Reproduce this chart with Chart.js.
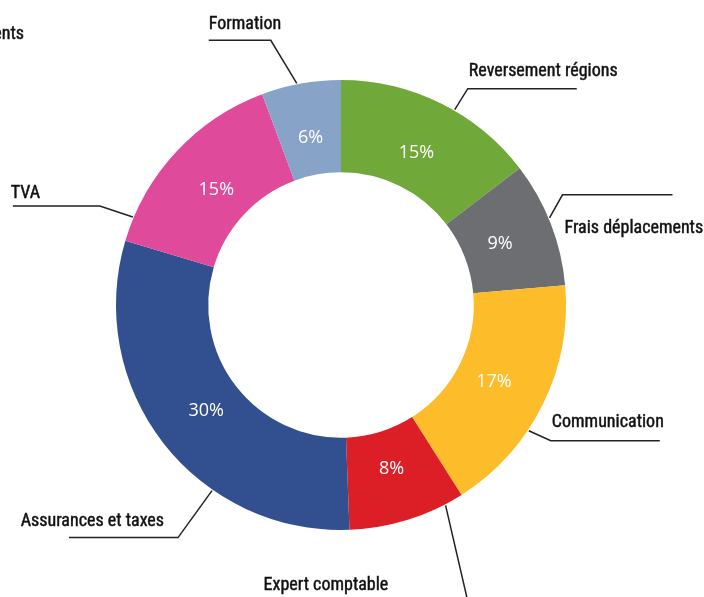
<!DOCTYPE html>
<html>
<head>
<meta charset="utf-8">
<script src="https://cdn.jsdelivr.net/npm/chart.js@4.4.0/dist/chart.umd.min.js"></script>
<style>
  html, body { margin: 0; padding: 0; background: #fff; }
  #wrap { width: 704px; height: 597px; position: relative; }
</style>
</head>
<body>
<div id="wrap"><canvas id="depenses"></canvas></div>
<script>
// data
const categories = ['Reversement régions', 'Frais déplacements', 'Communication', 'Expert comptable', 'Assurances et taxes', 'TVA', 'Formation'];
const shares = [14.6, 9.0, 17.4, 8.4, 30.2, 14.7, 5.7];
const sliceColors = ['#70a83a', '#6d6e72', '#fdbd2b', '#dc1f27', '#324f8f', '#df4a9b', '#87a3c8'];

// leader lines: t = where on the slice the line starts, elbow offset, horizontal run, text offset from elbow
const callouts = [
  { t: 0.575, ex: 13, ey: -21, hx: 109, tx: 1, ty: -17, align: 'left' },
  { t: 0.455, ex: 13, ey: -23, hx: 110, tx: 2, ty: 34, align: 'left' },
  { t: 0.62, ex: 22, ey: 10, hx: 109, tx: 1, ty: -18, align: 'left' },
  { t: 0.16, ex: 22, ey: 95, hx: 0, tx: -204, ty: -15, align: 'left' },
  { t: 0.34, ex: -34, ey: 47, hx: -109, tx: -14, ty: -16, align: 'right' },
  { t: 0.12, ex: -33, ey: -11, hx: -87, tx: -89, ty: -13, align: 'left' },
  { t: 0.45, ex: -26, ey: -43, hx: -62, tx: -62, ty: -16, align: 'left' }
];

const labelFont = '18px "Roboto Condensed", "Liberation Sans Narrow", "DejaVu Sans Condensed", Roboto, sans-serif';

function drawName(ctx, text, x, y) {
  // a hairline stroke gives the medium weight of the original labels
  ctx.fillText(text, x, y);
  ctx.lineWidth = 0.45;
  ctx.strokeStyle = '#111111';
  ctx.strokeText(text, x, y);
}

const calloutPlugin = {
  id: 'callouts',
  afterDatasetsDraw(chart) {
    const ctx = chart.ctx;
    const arcs = chart.getDatasetMeta(0).data;
    const total = shares.reduce((a, b) => a + b, 0);
    ctx.save();
    arcs.forEach((arc, i) => {
      const p = arc.getProps(['x', 'y', 'startAngle', 'endAngle', 'innerRadius', 'outerRadius'], true);
      // percentage inside the ring
      const mid = (p.startAngle + p.endAngle) / 2;
      const r = p.innerRadius + (p.outerRadius - p.innerRadius) * 0.41;
      ctx.fillStyle = '#ffffff';
      ctx.font = '18px "Open Sans", sans-serif';
      ctx.textAlign = 'center';
      ctx.textBaseline = 'middle';
      ctx.fillText(Math.round(shares[i] / total * 100) + '%', p.x + Math.cos(mid) * r, p.y + Math.sin(mid) * r + 1);

      // leader line and category name
      const c = callouts[i];
      const a = p.startAngle + (p.endAngle - p.startAngle) * c.t;
      const ax = p.x + Math.cos(a) * (p.outerRadius + 1);
      const ay = p.y + Math.sin(a) * (p.outerRadius + 1);
      const bx = ax + c.ex, by = ay + c.ey;
      ctx.strokeStyle = '#222222';
      ctx.lineWidth = 1.5;
      ctx.beginPath();
      ctx.moveTo(ax, ay);
      ctx.lineTo(bx, by);
      ctx.lineTo(bx + c.hx, by);
      ctx.stroke();
      ctx.fillStyle = '#111111';
      ctx.font = labelFont;
      ctx.textAlign = c.align;
      drawName(ctx, categories[i], bx + c.tx, by + c.ty);
    });
    // stray label cut by the left border
    ctx.textAlign = 'right';
    drawName(ctx, 'Remboursements', 24, 34);
    ctx.restore();
  }
};

new Chart(document.getElementById('depenses'), {
  type: 'doughnut',
  data: {
    labels: categories,
    datasets: [{
      data: shares,
      backgroundColor: sliceColors,
      borderWidth: 0,
      hoverOffset: 0
    }]
  },
  options: {
    responsive: true,
    maintainAspectRatio: false,
    animation: false,
    cutout: '59%',
    layout: { padding: { left: 116, right: 138, top: 80, bottom: 67 } },
    plugins: {
      legend: { display: false },
      tooltip: { enabled: false }
    }
  },
  plugins: [calloutPlugin]
});
</script>
</body>
</html>
